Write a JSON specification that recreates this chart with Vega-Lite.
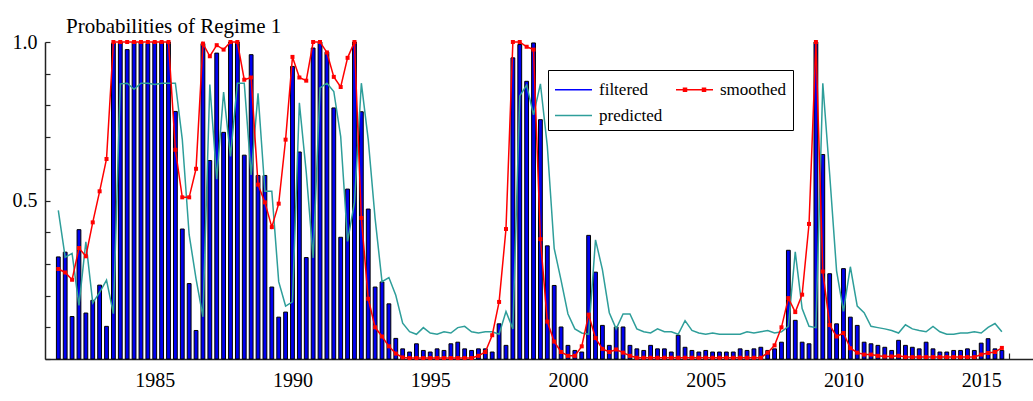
{
  "$schema": "https://vega.github.io/schema/vega-lite/v6.json",
  "width": 988,
  "height": 317,
  "autosize": {"type": "none"},
  "padding": {"left": 45, "top": 42, "right": 0, "bottom": 42},
  "background": "white",
  "title": {"text": "Probabilities of Regime 1", "anchor": "start", "frame": "group", "font": "Liberation Serif", "fontSize": 21, "fontWeight": "normal", "color": "black", "dx": 21, "dy": 22, "offset": 0, "baseline": "alphabetic"},
  "config": {
    "view": {"stroke": null},
    "axis": {"grid": false, "domainColor": "#222222", "domainWidth": 1.5, "tickColor": "#222222", "tickWidth": 1.2, "labelFont": "Liberation Serif", "labelFontSize": 20, "labelColor": "black", "title": null}
  },
  "data": {"values": [
    {"t": 1981.5, "filtered": 0.322, "smoothed": 0.284, "predicted": 0.469},
    {"t": 1981.75, "filtered": 0.337, "smoothed": 0.273, "predicted": 0.321},
    {"t": 1982.0, "filtered": 0.134, "smoothed": 0.25, "predicted": 0.333},
    {"t": 1982.25, "filtered": 0.408, "smoothed": 0.35, "predicted": 0.169},
    {"t": 1982.5, "filtered": 0.145, "smoothed": 0.324, "predicted": 0.37},
    {"t": 1982.75, "filtered": 0.185, "smoothed": 0.431, "predicted": 0.177},
    {"t": 1983.0, "filtered": 0.233, "smoothed": 0.529, "predicted": 0.21},
    {"t": 1983.25, "filtered": 0.103, "smoothed": 0.631, "predicted": 0.249},
    {"t": 1983.5, "filtered": 0.997, "smoothed": 1.0, "predicted": 0.143},
    {"t": 1983.75, "filtered": 1.0, "smoothed": 1.0, "predicted": 0.868},
    {"t": 1984.0, "filtered": 0.976, "smoothed": 1.0, "predicted": 0.87},
    {"t": 1984.25, "filtered": 1.0, "smoothed": 1.0, "predicted": 0.851},
    {"t": 1984.5, "filtered": 1.0, "smoothed": 1.0, "predicted": 0.87},
    {"t": 1984.75, "filtered": 0.995, "smoothed": 1.0, "predicted": 0.87},
    {"t": 1985.0, "filtered": 1.0, "smoothed": 1.0, "predicted": 0.866},
    {"t": 1985.25, "filtered": 1.0, "smoothed": 1.0, "predicted": 0.87},
    {"t": 1985.5, "filtered": 1.0, "smoothed": 1.0, "predicted": 0.87},
    {"t": 1985.75, "filtered": 0.781, "smoothed": 0.66, "predicted": 0.87},
    {"t": 1986.0, "filtered": 0.41, "smoothed": 0.51, "predicted": 0.693},
    {"t": 1986.25, "filtered": 0.238, "smoothed": 0.51, "predicted": 0.392},
    {"t": 1986.5, "filtered": 0.09, "smoothed": 0.6, "predicted": 0.253},
    {"t": 1986.75, "filtered": 0.995, "smoothed": 0.995, "predicted": 0.133},
    {"t": 1987.0, "filtered": 0.626, "smoothed": 0.955, "predicted": 0.866},
    {"t": 1987.25, "filtered": 0.965, "smoothed": 0.99, "predicted": 0.567},
    {"t": 1987.5, "filtered": 0.715, "smoothed": 0.976, "predicted": 0.842},
    {"t": 1987.75, "filtered": 1.0, "smoothed": 1.0, "predicted": 0.639},
    {"t": 1988.0, "filtered": 1.0, "smoothed": 1.0, "predicted": 0.87},
    {"t": 1988.25, "filtered": 0.643, "smoothed": 0.881, "predicted": 0.87},
    {"t": 1988.5, "filtered": 0.96, "smoothed": 0.888, "predicted": 0.581},
    {"t": 1988.75, "filtered": 0.579, "smoothed": 0.55, "predicted": 0.838},
    {"t": 1989.0, "filtered": 0.579, "smoothed": 0.494, "predicted": 0.529},
    {"t": 1989.25, "filtered": 0.227, "smoothed": 0.416, "predicted": 0.529},
    {"t": 1989.5, "filtered": 0.132, "smoothed": 0.49, "predicted": 0.244},
    {"t": 1989.75, "filtered": 0.148, "smoothed": 0.692, "predicted": 0.167},
    {"t": 1990.0, "filtered": 0.923, "smoothed": 0.953, "predicted": 0.18},
    {"t": 1990.25, "filtered": 0.653, "smoothed": 0.888, "predicted": 0.808},
    {"t": 1990.5, "filtered": 0.32, "smoothed": 0.878, "predicted": 0.589},
    {"t": 1990.75, "filtered": 0.981, "smoothed": 1.0, "predicted": 0.319},
    {"t": 1991.0, "filtered": 1.0, "smoothed": 1.0, "predicted": 0.855},
    {"t": 1991.25, "filtered": 0.968, "smoothed": 0.967, "predicted": 0.87},
    {"t": 1991.5, "filtered": 0.792, "smoothed": 0.89, "predicted": 0.844},
    {"t": 1991.75, "filtered": 0.384, "smoothed": 0.858, "predicted": 0.702},
    {"t": 1992.0, "filtered": 0.536, "smoothed": 0.95, "predicted": 0.371},
    {"t": 1992.25, "filtered": 1.0, "smoothed": 1.0, "predicted": 0.494},
    {"t": 1992.5, "filtered": 0.78, "smoothed": 0.445, "predicted": 0.87},
    {"t": 1992.75, "filtered": 0.473, "smoothed": 0.19, "predicted": 0.692},
    {"t": 1993.0, "filtered": 0.227, "smoothed": 0.1, "predicted": 0.443},
    {"t": 1993.25, "filtered": 0.243, "smoothed": 0.071, "predicted": 0.244},
    {"t": 1993.5, "filtered": 0.174, "smoothed": 0.04, "predicted": 0.257},
    {"t": 1993.75, "filtered": 0.065, "smoothed": 0.017, "predicted": 0.201},
    {"t": 1994.0, "filtered": 0.032, "smoothed": 0.005, "predicted": 0.113},
    {"t": 1994.25, "filtered": 0.022, "smoothed": 0.003, "predicted": 0.086},
    {"t": 1994.5, "filtered": 0.048, "smoothed": 0.003, "predicted": 0.078},
    {"t": 1994.75, "filtered": 0.027, "smoothed": 0.003, "predicted": 0.099},
    {"t": 1995.0, "filtered": 0.022, "smoothed": 0.003, "predicted": 0.082},
    {"t": 1995.25, "filtered": 0.032, "smoothed": 0.003, "predicted": 0.078},
    {"t": 1995.5, "filtered": 0.027, "smoothed": 0.003, "predicted": 0.086},
    {"t": 1995.75, "filtered": 0.048, "smoothed": 0.003, "predicted": 0.082},
    {"t": 1996.0, "filtered": 0.053, "smoothed": 0.003, "predicted": 0.099},
    {"t": 1996.25, "filtered": 0.032, "smoothed": 0.003, "predicted": 0.103},
    {"t": 1996.5, "filtered": 0.027, "smoothed": 0.003, "predicted": 0.086},
    {"t": 1996.75, "filtered": 0.032, "smoothed": 0.01, "predicted": 0.082},
    {"t": 1997.0, "filtered": 0.032, "smoothed": 0.022, "predicted": 0.086},
    {"t": 1997.25, "filtered": 0.022, "smoothed": 0.075, "predicted": 0.086},
    {"t": 1997.5, "filtered": 0.111, "smoothed": 0.18, "predicted": 0.078},
    {"t": 1997.75, "filtered": 0.043, "smoothed": 0.41, "predicted": 0.15},
    {"t": 1998.0, "filtered": 0.95, "smoothed": 1.0, "predicted": 0.095},
    {"t": 1998.25, "filtered": 0.992, "smoothed": 1.0, "predicted": 0.83},
    {"t": 1998.5, "filtered": 0.876, "smoothed": 0.985, "predicted": 0.864},
    {"t": 1998.75, "filtered": 0.997, "smoothed": 0.976, "predicted": 0.77},
    {"t": 1999.0, "filtered": 0.755, "smoothed": 0.378, "predicted": 0.868},
    {"t": 1999.25, "filtered": 0.357, "smoothed": 0.118, "predicted": 0.672},
    {"t": 1999.5, "filtered": 0.232, "smoothed": 0.055, "predicted": 0.349},
    {"t": 1999.75, "filtered": 0.101, "smoothed": 0.022, "predicted": 0.248},
    {"t": 2000.0, "filtered": 0.043, "smoothed": 0.01, "predicted": 0.142},
    {"t": 2000.25, "filtered": 0.027, "smoothed": 0.01, "predicted": 0.095},
    {"t": 2000.5, "filtered": 0.022, "smoothed": 0.04, "predicted": 0.082},
    {"t": 2000.75, "filtered": 0.39, "smoothed": 0.14, "predicted": 0.078},
    {"t": 2001.0, "filtered": 0.274, "smoothed": 0.066, "predicted": 0.376},
    {"t": 2001.25, "filtered": 0.106, "smoothed": 0.032, "predicted": 0.282},
    {"t": 2001.5, "filtered": 0.043, "smoothed": 0.022, "predicted": 0.146},
    {"t": 2001.75, "filtered": 0.101, "smoothed": 0.03, "predicted": 0.095},
    {"t": 2002.0, "filtered": 0.101, "smoothed": 0.02, "predicted": 0.142},
    {"t": 2002.25, "filtered": 0.043, "smoothed": 0.01, "predicted": 0.142},
    {"t": 2002.5, "filtered": 0.032, "smoothed": 0.004, "predicted": 0.095},
    {"t": 2002.75, "filtered": 0.027, "smoothed": 0.004, "predicted": 0.086},
    {"t": 2003.0, "filtered": 0.043, "smoothed": 0.004, "predicted": 0.082},
    {"t": 2003.25, "filtered": 0.032, "smoothed": 0.004, "predicted": 0.095},
    {"t": 2003.5, "filtered": 0.032, "smoothed": 0.004, "predicted": 0.086},
    {"t": 2003.75, "filtered": 0.022, "smoothed": 0.004, "predicted": 0.086},
    {"t": 2004.0, "filtered": 0.075, "smoothed": 0.004, "predicted": 0.078},
    {"t": 2004.25, "filtered": 0.037, "smoothed": 0.004, "predicted": 0.121},
    {"t": 2004.5, "filtered": 0.027, "smoothed": 0.004, "predicted": 0.09},
    {"t": 2004.75, "filtered": 0.022, "smoothed": 0.004, "predicted": 0.082},
    {"t": 2005.0, "filtered": 0.027, "smoothed": 0.004, "predicted": 0.078},
    {"t": 2005.25, "filtered": 0.022, "smoothed": 0.004, "predicted": 0.082},
    {"t": 2005.5, "filtered": 0.022, "smoothed": 0.004, "predicted": 0.078},
    {"t": 2005.75, "filtered": 0.022, "smoothed": 0.004, "predicted": 0.078},
    {"t": 2006.0, "filtered": 0.022, "smoothed": 0.004, "predicted": 0.078},
    {"t": 2006.25, "filtered": 0.032, "smoothed": 0.004, "predicted": 0.078},
    {"t": 2006.5, "filtered": 0.027, "smoothed": 0.004, "predicted": 0.086},
    {"t": 2006.75, "filtered": 0.032, "smoothed": 0.004, "predicted": 0.082},
    {"t": 2007.0, "filtered": 0.037, "smoothed": 0.004, "predicted": 0.086},
    {"t": 2007.25, "filtered": 0.027, "smoothed": 0.02, "predicted": 0.09},
    {"t": 2007.5, "filtered": 0.032, "smoothed": 0.043, "predicted": 0.082},
    {"t": 2007.75, "filtered": 0.053, "smoothed": 0.1, "predicted": 0.086},
    {"t": 2008.0, "filtered": 0.343, "smoothed": 0.192, "predicted": 0.103},
    {"t": 2008.25, "filtered": 0.122, "smoothed": 0.148, "predicted": 0.338},
    {"t": 2008.5, "filtered": 0.053, "smoothed": 0.203, "predicted": 0.159},
    {"t": 2008.75, "filtered": 0.048, "smoothed": 0.426, "predicted": 0.103},
    {"t": 2009.0, "filtered": 1.0, "smoothed": 1.0, "predicted": 0.099},
    {"t": 2009.25, "filtered": 0.645, "smoothed": 0.276, "predicted": 0.87},
    {"t": 2009.5, "filtered": 0.269, "smoothed": 0.107, "predicted": 0.582},
    {"t": 2009.75, "filtered": 0.111, "smoothed": 0.071, "predicted": 0.278},
    {"t": 2010.0, "filtered": 0.285, "smoothed": 0.082, "predicted": 0.15},
    {"t": 2010.25, "filtered": 0.132, "smoothed": 0.034, "predicted": 0.291},
    {"t": 2010.5, "filtered": 0.106, "smoothed": 0.02, "predicted": 0.167},
    {"t": 2010.75, "filtered": 0.053, "smoothed": 0.014, "predicted": 0.146},
    {"t": 2011.0, "filtered": 0.048, "smoothed": 0.014, "predicted": 0.103},
    {"t": 2011.25, "filtered": 0.043, "smoothed": 0.01, "predicted": 0.099},
    {"t": 2011.5, "filtered": 0.037, "smoothed": 0.008, "predicted": 0.095},
    {"t": 2011.75, "filtered": 0.027, "smoothed": 0.008, "predicted": 0.09},
    {"t": 2012.0, "filtered": 0.059, "smoothed": 0.01, "predicted": 0.082},
    {"t": 2012.25, "filtered": 0.043, "smoothed": 0.006, "predicted": 0.108},
    {"t": 2012.5, "filtered": 0.037, "smoothed": 0.006, "predicted": 0.095},
    {"t": 2012.75, "filtered": 0.032, "smoothed": 0.006, "predicted": 0.09},
    {"t": 2013.0, "filtered": 0.053, "smoothed": 0.006, "predicted": 0.086},
    {"t": 2013.25, "filtered": 0.032, "smoothed": 0.006, "predicted": 0.103},
    {"t": 2013.5, "filtered": 0.022, "smoothed": 0.006, "predicted": 0.086},
    {"t": 2013.75, "filtered": 0.022, "smoothed": 0.006, "predicted": 0.078},
    {"t": 2014.0, "filtered": 0.027, "smoothed": 0.006, "predicted": 0.078},
    {"t": 2014.25, "filtered": 0.027, "smoothed": 0.006, "predicted": 0.082},
    {"t": 2014.5, "filtered": 0.032, "smoothed": 0.006, "predicted": 0.082},
    {"t": 2014.75, "filtered": 0.027, "smoothed": 0.006, "predicted": 0.086},
    {"t": 2015.0, "filtered": 0.05, "smoothed": 0.014, "predicted": 0.082},
    {"t": 2015.25, "filtered": 0.064, "smoothed": 0.019, "predicted": 0.1},
    {"t": 2015.5, "filtered": 0.032, "smoothed": 0.022, "predicted": 0.112},
    {"t": 2015.75, "filtered": 0.027, "smoothed": 0.035, "predicted": 0.086}
  ]},
  "encoding": {
    "x": {"field": "t", "type": "quantitative", "scale": {"domain": [1981.017, 2016.88], "nice": false, "zero": false, "padding": 0},
      "axis": {"values": [1982,1983,1984,1985,1986,1987,1988,1989,1990,1991,1992,1993,1994,1995,1996,1997,1998,1999,2000,2001,2002,2003,2004,2005,2006,2007,2008,2009,2010,2011,2012,2013,2014,2015,2016],
        "labelExpr": "datum.value % 5 === 0 ? '' + datum.value : ''", "tickSize": -6, "labelPadding": 17, "labelFlush": false, "labelOverlap": false}}
  },
  "layer": [
    {
      "mark": {"type": "bar", "size": 3.8, "fill": "#0000f0", "stroke": "black", "strokeWidth": 1},
      "encoding": {
        "y": {"field": "filtered", "type": "quantitative", "scale": {"domain": [0, 1], "nice": false},
          "axis": {"values": [0, 0.1, 0.2, 0.3, 0.4, 0.5, 0.6, 0.7, 0.8, 0.9, 1],
            "labelExpr": "datum.value === 0.5 || datum.value === 1 ? format(datum.value, '.1f') : ''", "tickSize": -5, "labelPadding": 13, "labelFlush": false, "labelOverlap": false}}
      }
    },
    {
      "transform": [{"fold": ["predicted", "smoothed"], "as": ["series", "value"]}],
      "mark": {"type": "line", "strokeWidth": 1.5},
      "encoding": {
        "y": {"field": "value", "type": "quantitative", "scale": {"domain": [0, 1], "nice": false},
          "axis": {"values": [0, 0.1, 0.2, 0.3, 0.4, 0.5, 0.6, 0.7, 0.8, 0.9, 1],
            "labelExpr": "datum.value === 0.5 || datum.value === 1 ? format(datum.value, '.1f') : ''", "tickSize": -5, "labelPadding": 13, "labelFlush": false, "labelOverlap": false}},
        "color": {"field": "series", "type": "nominal",
          "scale": {"domain": ["filtered", "predicted", "smoothed"], "range": ["#0000ff", "#2e9e9a", "#ff0000"]},
          "legend": {"orient": "none", "legendX": 503, "legendY": 28, "title": null, "columns": 2,
            "values": ["filtered", "predicted", "smoothed"],
            "symbolType": "M-1,0H1.96", "symbolSize": 625, "symbolStrokeWidth": 1.5,
            "labelFont": "Liberation Serif", "labelFontSize": 17, "labelColor": "black", "labelOffset": 18, "labelLimit": 300,
            "padding": 6, "rowPadding": 4, "columnPadding": 10, "strokeColor": "black", "fillColor": "white",
            "encode": {"symbols": {"update": {"shape": {"signal": "datum.value === 'smoothed' ? 'M-1,0H1.96M-0.4,-0.12h0.24v0.24h-0.24zM1.12,-0.12h0.24v0.24h-0.24z' : 'M-1,0H1.96'"}}}}}
        }
      }
    },
    {
      "mark": {"type": "point", "shape": "square", "filled": true, "size": 16, "color": "#ff0000", "opacity": 1},
      "encoding": {
        "y": {"field": "smoothed", "type": "quantitative", "scale": {"domain": [0, 1], "nice": false},
          "axis": {"values": [0, 0.1, 0.2, 0.3, 0.4, 0.5, 0.6, 0.7, 0.8, 0.9, 1],
            "labelExpr": "datum.value === 0.5 || datum.value === 1 ? format(datum.value, '.1f') : ''", "tickSize": -5, "labelPadding": 13, "labelFlush": false, "labelOverlap": false}}
      }
    }
  ]
}
